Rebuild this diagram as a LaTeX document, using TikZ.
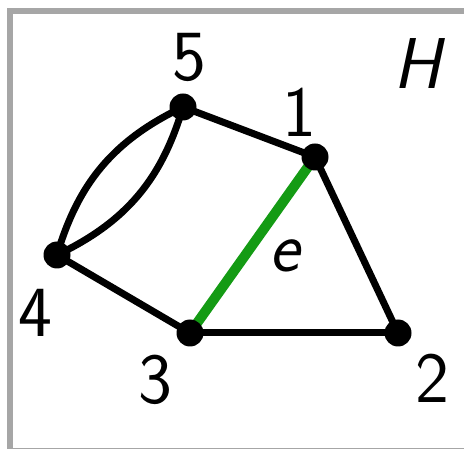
\documentclass[tikz,border=0pt]{standalone}
\definecolor{framegray}{RGB}{166,166,166}
\definecolor{edgegreen}{RGB}{20,155,20}
\begin{document}
\begin{tikzpicture}[x=1pt,y=-1pt,
  vertex/.style={circle,fill=black,inner sep=0pt,minimum size=27pt},
  edge/.style={line width=7pt,black},
  special/.style={line width=10pt,edgegreen},
  lbl/.style={inner sep=0pt,font=\fontsize{72}{80}\selectfont\sffamily},
  ilbl/.style={inner sep=0pt,font=\fontsize{72}{80}\selectfont\sffamily\itshape}]
\useasboundingbox (0,0) rectangle (464,449);
\begin{scope}
\clip (0,0) rectangle (464,449);
\draw[framegray,line width=6pt] (10,11) rectangle (466.5,451.5);
\end{scope}
\coordinate (p1) at (315,157);
\coordinate (p2) at (398,333);
\coordinate (p3) at (190,333);
\coordinate (p4) at (57,255);
\coordinate (p5) at (183,107);
\draw[special] (p3) -- (p1);
\draw[edge] (p5) -- (p1);
\draw[edge] (p1) -- (p2);
\draw[edge] (p2) -- (p3);
\draw[edge] (p3) -- (p4);
\draw[edge] (p4) to[bend left=24] (p5);
\draw[edge] (p4) to[bend right=24] (p5);
\node[vertex] (n1) at (p1) {};
\node[vertex] (n2) at (p2) {};
\node[vertex] (n3) at (p3) {};
\node[vertex] (n4) at (p4) {};
\node[vertex] (n5) at (p5) {};
\node[lbl] (l5) at (189,57) {5};
\node[lbl] (l1) at (299,112) {1};
\node[lbl] (l4) at (35,313) {4};
\node[lbl] (l3) at (155,380) {3};
\node[lbl] (l2) at (432,378) {2};
\node[ilbl] (lH) at (417,64) {H};
\node[ilbl] (le) at (285,256) {e};
\end{tikzpicture}
\end{document}
